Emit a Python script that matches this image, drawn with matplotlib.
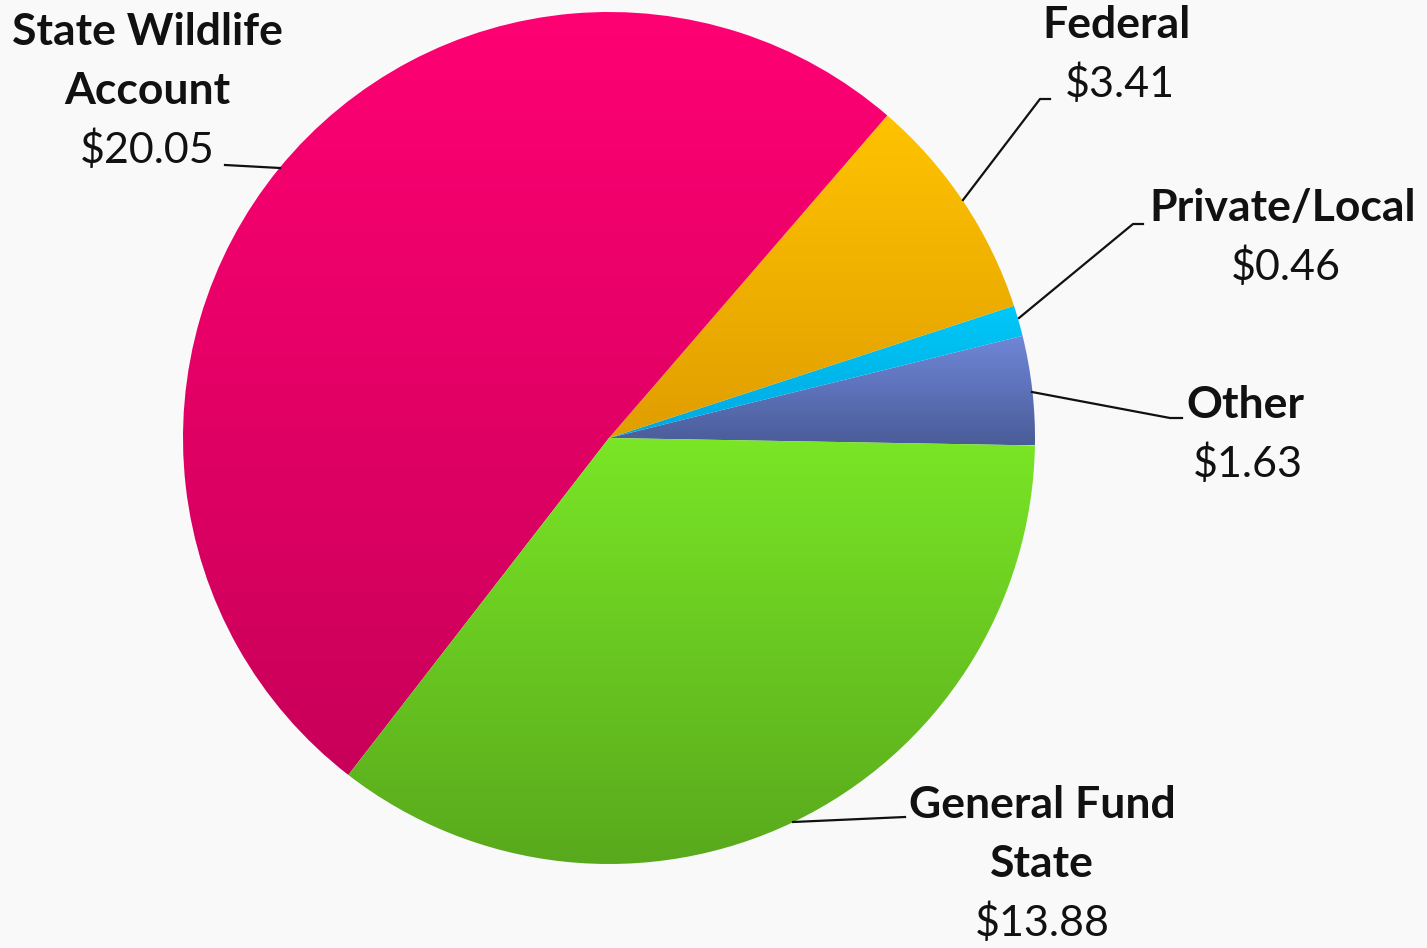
import numpy as np
import matplotlib
matplotlib.use("Agg")
import matplotlib.pyplot as plt
from matplotlib.colors import LinearSegmentedColormap

plt.rcParams['font.family'] = ['Lato', 'DejaVu Sans']

# data, in counter-clockwise order starting just below 3 o'clock
names = ["Other", "Private/Local", "Federal", "State Wildlife\nAccount", "General Fund\nState"]
values = [1.63, 0.46, 3.41, 20.05, 13.88]
value_labels = ["$1.63", "$0.46", "$3.41", "$20.05", "$13.88"]
# top / bottom of each slice's vertical gradient
top_colors = ["#6f87d8", "#00c8f8", "#ffc300", "#ff0073", "#7ae626"]
bottom_colors = ["#4a5c98", "#00a8e0", "#e09e00", "#c80059", "#58a81c"]

W, H = 1427, 948
fig = plt.figure(figsize=(W / 100, H / 100), dpi=100)
fig.patch.set_facecolor("#f9f9f9")
ax = fig.add_axes([0, 0, 1, 1])
ax.set_xlim(0, W)
ax.set_ylim(0, H)
ax.set_aspect("equal")
ax.axis("off")

cx, cy, r = 609, H - 438, 426
wedges, _ = ax.pie(values, startangle=-1, counterclock=True, center=(cx, cy),
                   radius=r, frame=True, wedgeprops=dict(linewidth=0))
ax.set_xlim(0, W)
ax.set_ylim(0, H)
ax.axis("off")

grad = np.linspace(0, 1, 256).reshape(-1, 1)
for w, c0, c1 in zip(wedges, top_colors, bottom_colors):
    path = w.get_path().transformed(w.get_patch_transform())
    x0, y0 = path.vertices.min(axis=0)
    x1, y1 = path.vertices.max(axis=0)
    cmap = LinearSegmentedColormap.from_list("g", [c1, c0])
    w.set_facecolor("none")
    im = ax.imshow(grad, cmap=cmap, extent=(x0, x1, y0, y1), origin="lower",
                   aspect="auto", zorder=1)
    im.set_clip_path(w)

# label positions (pixel coords from top), and leader lines
label_xy = [(1245, 405), (1283, 208), (1117, 25), (147, 32), (1042, 805)]
leaders = [
    [(1182, 418), (1170, 418), (1032, 392)],
    [(1143, 224), (1133, 224), (1019, 318)],
    [(1050, 99), (1040, 99), (963, 200)],
    [(225, 165), (280, 168)],
    [(905, 817), (793, 822)],
]

line_h = 59
for name, val, (lx, ly), pts in zip(names, value_labels, label_xy, leaders):
    lines = name.split("\n")
    for i, ln in enumerate(lines):
        ax.text(lx, H - (ly + i * line_h), ln, ha="center", va="center",
                fontsize=32, fontweight="bold", color="#111111")
    ax.text(lx + (3 if len(lines) == 1 else 0), H - (ly + len(lines) * line_h), val,
            ha="center", va="center", fontsize=31, color="#111111")
    xs = [p[0] for p in pts]
    ys = [H - p[1] for p in pts]
    ax.plot(xs, ys, color="#111111", lw=1.6, zorder=3)

fig.savefig("out.png", dpi=100, facecolor=fig.get_facecolor())
